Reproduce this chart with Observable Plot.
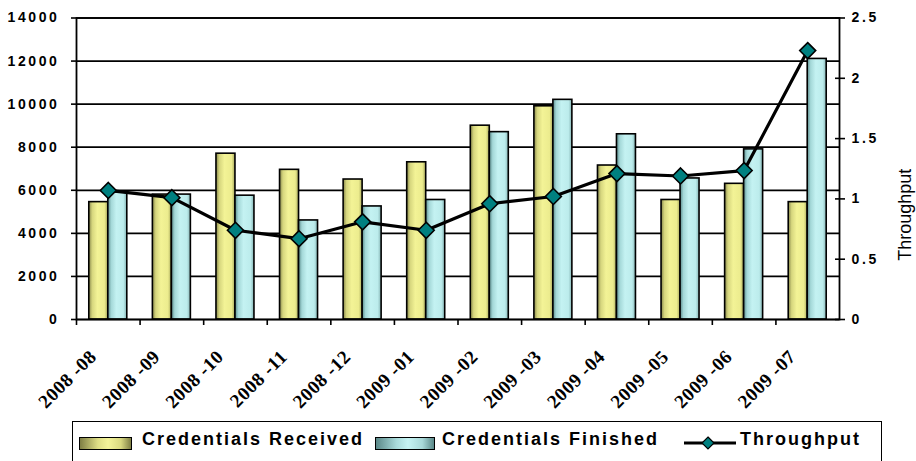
<!DOCTYPE html>
<html>
<head>
<meta charset="utf-8">
<script src="https://cdn.jsdelivr.net/npm/d3@7"></script>
<script src="https://cdn.jsdelivr.net/npm/@observablehq/plot@0.6"></script>
<style>
  html, body { margin: 0; padding: 0; background: #fff; overflow: hidden; }
  #wrap { position: relative; width: 916px; height: 461px; }
  #chart svg { display: block; }
  g[aria-label="y-axis tick label"] text { letter-spacing: 2.6px; }
  g[aria-label="x-axis tick label"] text { font-family: "Liberation Serif", "Times New Roman", serif; font-size: 19px; font-weight: bold; letter-spacing: 0.6px; }
  #legend { position: absolute; left: 72px; top: 421px; width: 810px; height: 60px;
            border: 1.5px solid #000; box-sizing: border-box;
            font-family: Arial, "Liberation Sans", sans-serif; font-weight: bold; font-size: 18px; letter-spacing: 2px; color: #000; }
  .sw { position: absolute; top: 15px; height: 11px; border: 1.5px solid #000; }
  .lt { position: absolute; top: 7px; white-space: nowrap; }
</style>
</head>
<body>
<div id="wrap">
  <div id="chart"></div>
  <div id="legend"></div>
</div>
<script>
const months = ["2008 -08","2008 -09","2008 -10","2008 -11","2008 -12","2009 -01","2009 -02","2009 -03","2009 -04","2009 -05","2009 -06","2009 -07"];
const received = [5450, 5800, 7700, 6950, 6500, 7300, 9000, 9900, 7150, 5550, 6300, 5450];
const finished = [5900, 5800, 5750, 4600, 5250, 5550, 8700, 10200, 8600, 6550, 7900, 12100];
const throughput = [1.07, 1.01, 0.74, 0.67, 0.81, 0.74, 0.96, 1.02, 1.21, 1.19, 1.235, 2.23];
const leftTicks = [0, 2000, 4000, 6000, 8000, 10000, 12000, 14000];
const rightTicks = [0, 0.5, 1, 1.5, 2, 2.5];
const seriesNames = ["Credentials Received", "Credentials Finished", "Throughput"];

const leftMax = 14000, rightMax = 2.5;
const ratio = leftMax / rightMax;

const data = months.map((m, i) => ({month: m, received: received[i], finished: finished[i], throughput: throughput[i]}));

const W = 916, H = 420;
const mL = 76, mR = 77, mT = 17.5, mB = 101;
const bw = (W - mL - mR) / months.length;
const barW = 19;
const outer = (bw - 2 * barW) / 2;

function defs() {
  const ns = "http://www.w3.org/2000/svg";
  const d = document.createElementNS(ns, "defs");
  const mk = (id, stops) => {
    const g = document.createElementNS(ns, "linearGradient");
    g.setAttribute("id", id);
    g.setAttribute("x1", "0"); g.setAttribute("x2", "1");
    g.setAttribute("y1", "0"); g.setAttribute("y2", "0");
    for (const [o, c] of stops) {
      const s = document.createElementNS(ns, "stop");
      s.setAttribute("offset", o); s.setAttribute("stop-color", c);
      g.appendChild(s);
    }
    d.appendChild(g);
  };
  mk("gy", [[0, "#86864a"], [0.18, "#d6d67e"], [0.45, "#f3f396"], [0.82, "#ecec8e"], [1, "#a8a85c"]]);
  mk("gc", [[0, "#5a8a8a"], [0.18, "#a4d8d8"], [0.45, "#c4f2f2"], [0.82, "#bcecec"], [1, "#86b4b4"]]);
  return d;
}

const fontAxis = "Arial, 'Liberation Sans', sans-serif";

const chart = Plot.plot({
  width: W, height: H,
  marginLeft: mL, marginRight: mR, marginTop: mT, marginBottom: mB,
  style: {background: "transparent", color: "#000", overflow: "visible"},
  x: {type: "band", domain: months, padding: 0, round: false, axis: null},
  y: {domain: [0, leftMax], axis: null},
  marks: [
    defs,
    Plot.ruleY(leftTicks, {stroke: "#000", strokeWidth: 1.7}),
    Plot.barY(data, {x: "month", y: "received", insetLeft: outer, insetRight: outer + barW,
      fill: "url(#gy)", stroke: "#000", strokeWidth: 1.6}),
    Plot.barY(data, {x: "month", y: "finished", insetLeft: outer + barW, insetRight: outer,
      fill: "url(#gc)", stroke: "#000", strokeWidth: 1.6}),
    Plot.frame({stroke: "#000", strokeWidth: 1.8}),
    Plot.axisY({ticks: leftTicks, anchor: "left", tickSize: 5, tickPadding: 12,
      tickFormat: d => String(d), fontSize: 14, fontWeight: "bold", fontFamily: fontAxis, strokeWidth: 1.6, label: null}),
    Plot.axisY({ticks: rightTicks.map(t => t * ratio), anchor: "right", tickSize: 10, dx: -5,
      tickFormat: () => "", strokeWidth: 1.6, label: null}),
    Plot.axisY({ticks: rightTicks.map(t => t * ratio), anchor: "right", tickSize: 0, tickPadding: 12,
      tickFormat: d => String(+(d / ratio).toFixed(1)), fontSize: 14, fontWeight: "bold", fontFamily: fontAxis, label: null}),
    Plot.axisX({anchor: "bottom", tickSize: 6, dx: -bw / 2, tickFormat: () => "", strokeWidth: 1.6, label: null}),
    Plot.axisX({anchor: "bottom", tickSize: 0, tickPadding: 8, tickRotate: -45, dx: -15, dy: 26,
      fontSize: 19, fontWeight: "bold", label: null}),
    Plot.line(data, {x: "month", y: d => d.throughput * ratio, stroke: "#000", strokeWidth: 3.2}),
    Plot.dot(data, {x: "month", y: d => d.throughput * ratio, symbol: "diamond2", r: 7.2,
      fill: "#008080", stroke: "#000", strokeWidth: 1.6}),
    Plot.text([seriesNames[2]], {frameAnchor: "right", dx: 66, rotate: -90, fontSize: 18,
      fontFamily: fontAxis, fill: "#000"})
  ]
});
document.getElementById("chart").appendChild(chart);

// Legend (HTML, below the SVG)
const lg = document.getElementById("legend");
lg.innerHTML = `
  <div class="sw" style="left:6px;width:51px;background:linear-gradient(to right,#7e7e44,#dede86 35%,#f4f49a 55%,#d8d880 80%,#7e7e44)"></div>
  <div class="lt" style="left:69px">${seriesNames[0]}</div>
  <div class="sw" style="left:302px;width:58px;background:linear-gradient(to right,#5a8888,#a8dada 35%,#c6f4f4 55%,#a8d8d8 80%,#5a8888)"></div>
  <div class="lt" style="left:369px">${seriesNames[1]}</div>
  <svg style="position:absolute;left:609px;top:9px" width="56" height="24">
    <line x1="2" y1="12" x2="54" y2="12" stroke="#000" stroke-width="3"/>
    <path d="M26,6 L32,12 L26,18 L20,12 Z" fill="#008080" stroke="#000" stroke-width="1.2"/>
  </svg>
  <div class="lt" style="left:667px">${seriesNames[2]}</div>`;
</script>
</body>
</html>
